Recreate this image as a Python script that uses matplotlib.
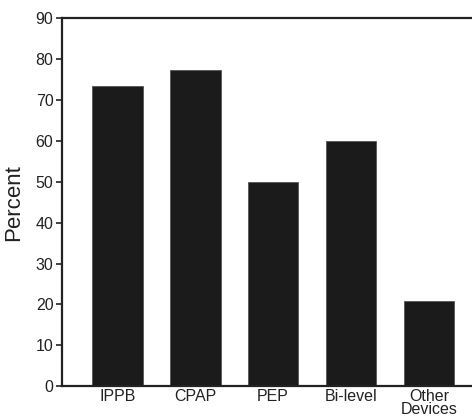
import matplotlib
matplotlib.use("Agg")
import matplotlib.pyplot as plt

devices = ["IPPB", "CPAP", "PEP", "Bi-level", "Other\nDevices"]
percent = [73.4, 77.4, 50.0, 60.0, 20.9]
yticks = [0, 10, 20, 30, 40, 50, 60, 70, 80, 90]

plt.rcParams["font.family"] = ["Liberation Sans", "DejaVu Sans"]

fig = plt.figure(figsize=(4.72, 4.17), dpi=100)
ax = fig.add_axes([0.131, 0.074, 0.869, 0.882])

x = range(len(devices))
ax.bar(x, percent, width=0.65, color="#1b1b1b", edgecolor="#555555", linewidth=0.6)

ax.set_xlim(-0.71, 4.55)
ax.set_ylim(0, 90)
ax.set_yticks(yticks)
ax.set_xticks(list(x))
ax.set_xticklabels(devices, linespacing=0.88)
ax.tick_params(axis="x", length=0, pad=2, labelsize=11.5, colors="#222222")
ax.tick_params(axis="y", length=4, width=1.2, pad=2, labelsize=11.5, colors="#222222")
ax.set_ylabel("Percent", fontsize=16, color="#222222", labelpad=8)

for side in ["left", "bottom", "top"]:
    ax.spines[side].set_linewidth(1.6)
    ax.spines[side].set_color("#222222")
ax.spines["right"].set_visible(False)

fig.savefig("out.png", dpi=100)
